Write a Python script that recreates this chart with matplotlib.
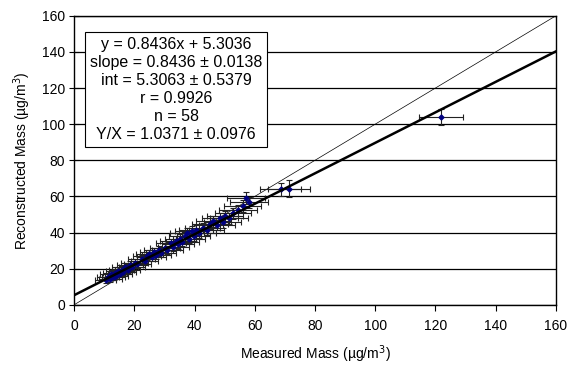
import numpy as np
import matplotlib
matplotlib.use("Agg")
import matplotlib.pyplot as plt

plt.rcParams['font.family'] = ['Liberation Sans', 'DejaVu Sans']

# Measured vs reconstructed mass (ug/m3), with uncertainties
measured = [10.5, 11.2, 12.0, 12.4, 13.1, 13.5, 14.0, 14.6, 15.2, 15.8,
            16.3, 17.0, 17.8, 18.5, 19.3, 20.1, 21.0, 22.4, 23.5, 24.2,
            25.0, 25.8, 26.5, 27.3, 28.1, 29.0, 30.2, 31.0, 32.1, 33.0,
            33.8, 34.5, 35.3, 36.0, 36.8, 37.5, 38.2, 39.0, 39.8, 40.5,
            41.6, 42.8, 44.0, 45.2, 46.3, 47.5, 48.4, 49.3, 50.2, 51.5,
            52.8, 54.5, 56.0, 57.1, 58.0, 68.6, 71.4, 122.0]
reconstructed = [13.5, 15.6, 14.1, 16.9, 15.2, 17.8, 16.0, 18.9, 17.2, 19.4,
                 18.3, 21.0, 19.5, 22.1, 20.8, 23.0, 22.4, 25.1, 24.3, 27.0,
                 28.2, 26.3, 29.0, 27.5, 30.1, 28.9, 31.7, 30.4, 34.0, 32.2,
                 35.6, 33.5, 36.7, 34.8, 37.9, 39.6, 36.6, 40.8, 38.0, 41.2,
                 39.5, 42.6, 41.3, 44.9, 46.2, 44.3, 47.8, 45.7, 49.0, 48.0,
                 50.6, 52.4, 54.6, 59.3, 56.7, 63.9, 64.4, 103.9]
measured_err = [3.5, 3.6, 3.8, 3.7, 3.9, 4.0, 3.8, 4.1, 4.0, 4.2,
                4.1, 4.3, 4.2, 4.4, 4.3, 4.5, 4.4, 4.6, 4.5, 4.7,
                4.6, 4.8, 4.7, 4.9, 4.8, 5.0, 4.9, 5.1, 5.0, 5.2,
                5.1, 5.3, 5.2, 5.4, 5.3, 5.5, 5.4, 5.6, 5.5, 5.7,
                5.6, 5.8, 5.7, 5.9, 5.8, 6.0, 5.9, 6.1, 6.0, 6.2,
                6.1, 6.3, 6.2, 6.4, 6.3, 6.8, 7.0, 7.3]
reconstructed_err = [1.6, 1.7, 1.6, 1.8, 1.7, 1.8, 1.7, 1.9, 1.8, 1.9,
                     1.8, 2.0, 1.9, 2.0, 2.0, 2.1, 2.0, 2.2, 2.1, 2.2,
                     2.3, 2.2, 2.3, 2.2, 2.4, 2.3, 2.4, 2.3, 2.5, 2.4,
                     2.5, 2.4, 2.6, 2.5, 2.6, 2.7, 2.6, 2.7, 2.6, 2.8,
                     2.7, 2.8, 2.7, 2.9, 2.9, 2.8, 3.0, 2.9, 3.0, 3.0,
                     3.1, 3.1, 3.2, 3.3, 3.2, 3.8, 4.7, 4.4]

slope, intercept = 0.8436, 5.3036
stats_text = ("y = 0.8436x + 5.3036\n"
              "slope = 0.8436 \u00b1 0.0138\n"
              "int = 5.3063 \u00b1 0.5379\n"
              "r = 0.9926\n"
              "n = 58\n"
              "Y/X = 1.0371 \u00b1 0.0976")

fig = plt.figure(figsize=(5.7, 3.69), dpi=100)
ax = fig.add_axes([0.13, 0.174, 0.845, 0.783])

ax.set_xlim(0, 160)
ax.set_ylim(0, 160)
ax.set_xticks(np.arange(0, 161, 20))
ax.set_yticks(np.arange(0, 161, 20))
ax.yaxis.grid(True, color='black', linewidth=0.9)
ax.set_axisbelow(True)

# 1:1 line and regression line
line_x = np.array([0, 160])
ax.plot(line_x, line_x, color='black', linewidth=0.5, zorder=2)
ax.plot(line_x, slope * line_x + intercept, color='black', linewidth=1.8, zorder=4)

ax.errorbar(measured, reconstructed, xerr=measured_err, yerr=reconstructed_err,
            fmt='D', color='#000080', markersize=2.5, ecolor='#222222',
            elinewidth=0.8, capsize=2.5, capthick=0.8, zorder=3)

ax.set_xlabel("Measured Mass (\u00b5g/m$^3$)", fontsize=10, labelpad=8)
ax.set_ylabel("Reconstructed Mass (\u00b5g/m$^3$)", fontsize=10, labelpad=6)
ax.tick_params(axis='x', direction='out', length=4, labelsize=10, pad=6)
ax.tick_params(axis='y', direction='inout', length=7, labelsize=10, pad=3)
for sp in ax.spines.values():
    sp.set_linewidth(1.0)
    sp.set_color('black')

# statistics box, drawn on top of the grid
fig.text(0.309, 0.757, stats_text, ha='center', va='center',
         fontsize=11.5, linespacing=1.25, zorder=5,
         bbox=dict(boxstyle='square,pad=0.3', facecolor='white',
                   edgecolor='black', linewidth=0.8))

fig.savefig("out.png", dpi=100)
